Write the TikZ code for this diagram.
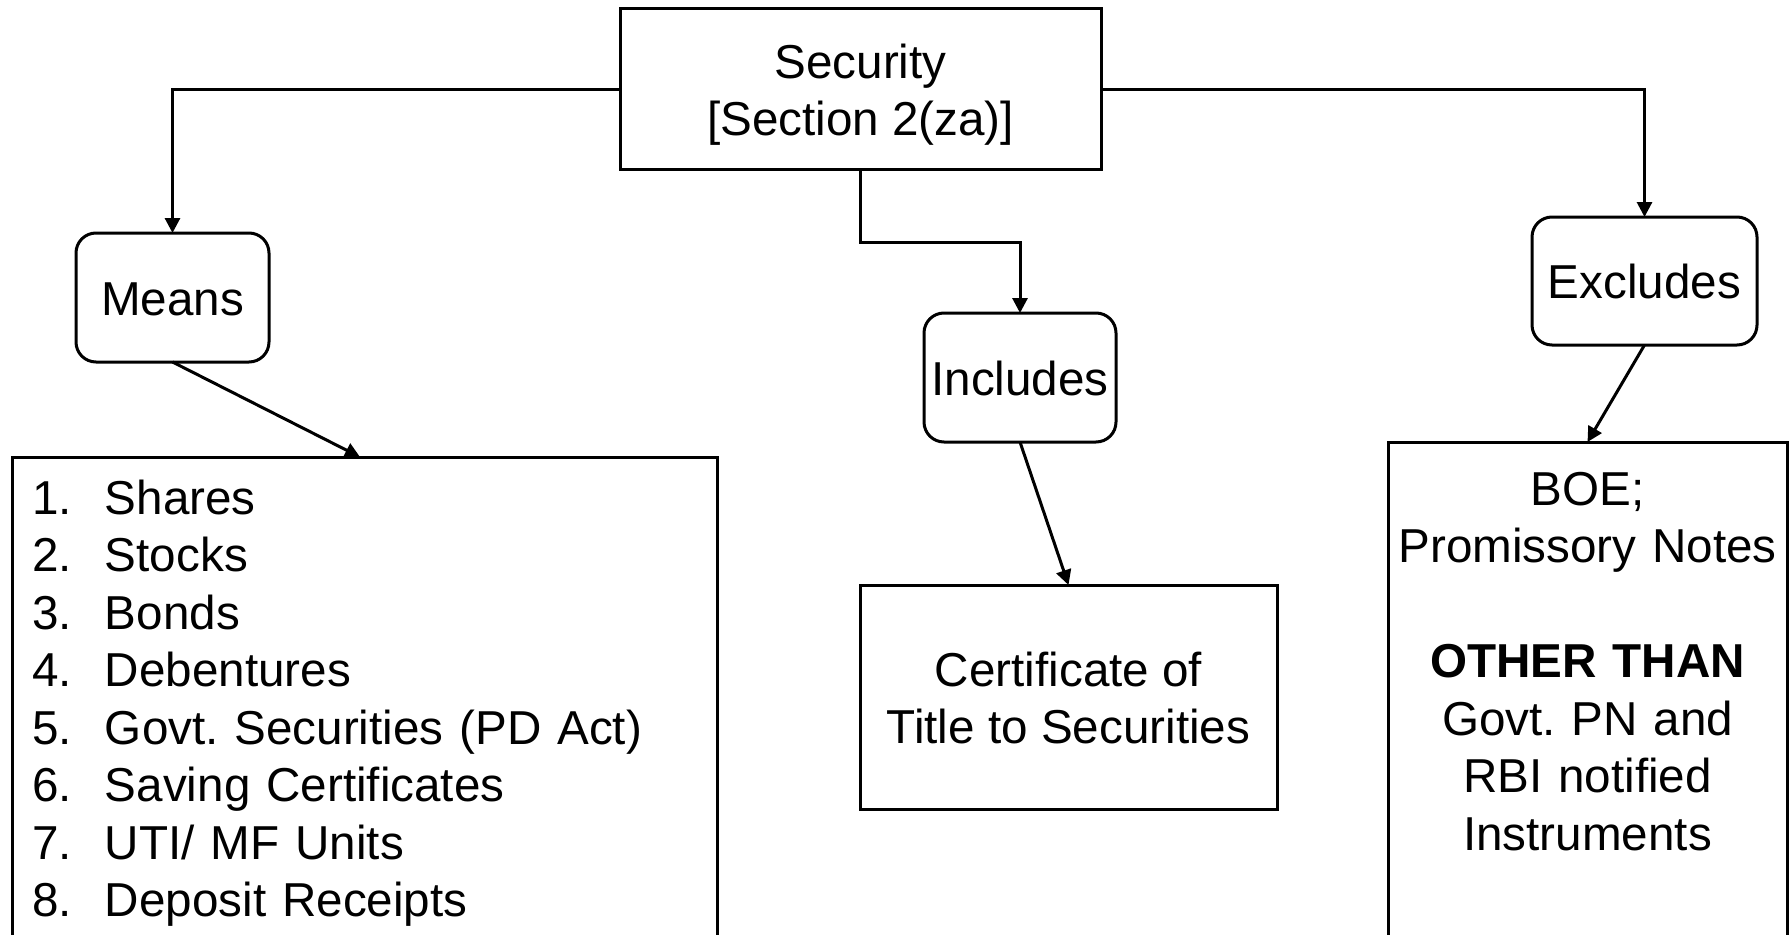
\documentclass[tikz,border=0pt]{standalone}
\usepackage{fontspec}
\setmainfont{Liberation Sans}
\usetikzlibrary{arrows.meta}
\newcommand\sst{\rule[-11pt]{0pt}{57.5pt}}
\frenchspacing
\begin{document}
\begin{tikzpicture}[x=1pt,y=-1pt,
  font=\fontsize{47.6pt}{57.5pt}\selectfont\frenchspacing,
  box/.style={draw=black, line width=3pt, inner sep=2pt, outer sep=0pt, align=center},
  roundbox/.style={box, rounded corners=20pt},
  arr/.style={draw=black, line width=3pt, -{Triangle[length=15pt,width=15pt]}}]
\useasboundingbox (0,0) rectangle (1790,934);

\node[box, minimum width=481pt, minimum height=160pt] (sec) at (860.5,89)
  {Security\sst\\ {[}Section 2(za)]\sst};
\node[roundbox, minimum width=193pt, minimum height=129pt] (means) at (172.5,297.5)
  {Means\sst};
\node[roundbox, minimum width=192pt, minimum height=129pt] (incl) at (1020,377.5)
  {Includes\sst};
\node[roundbox, minimum width=225pt, minimum height=128pt] (excl) at (1644.5,281)
  {Excludes\sst};
\node[box, minimum width=417pt, minimum height=224pt] (cert) at (1068.5,697)
  {Certificate of\sst\\ Title to Securities\sst};

\node[box, anchor=north west, align=left, text width=665pt, inner xsep=20pt, inner ysep=10.5pt] (list) at (12,457)
  {\makebox[73pt][l]{1.}Shares\sst\\
   \makebox[73pt][l]{2.}Stocks\sst\\
   \makebox[73pt][l]{3.}Bonds\sst\\
   \makebox[73pt][l]{4.}Debentures\sst\\
   \makebox[73pt][l]{5.}Govt. Securities (PD Act)\sst\\
   \makebox[73pt][l]{6.}Saving Certificates\sst\\
   \makebox[73pt][l]{7.}UTI/ MF Units\sst\\
   \makebox[73pt][l]{8.}Deposit Receipts\sst\\
   \mbox{}};

\node[box, anchor=north, text width=389pt, inner xsep=5pt, inner ysep=16.5pt] (excbox) at (1587.5,442)
  {BOE;\sst\\
   Promissory Notes\sst\\
   \sst\\
   \textbf{OTHER THAN}\sst\\
   Govt. PN and\sst\\
   RBI notified\sst\\
   Instruments\sst\\
   \mbox{}\\
   \mbox{}};

\draw[arr] (sec.west) -| (means.north);
\draw[arr] (sec.east) -| (excl.north);
\draw[arr] (sec.south) -- ++(0,73) -| (incl.north);
\draw[arr] (means.south) -- ([xshift=348pt]list.north west);
\draw[arr] (incl.south) -- (cert.north);
\draw[arr] (excl.south) -- (excbox.north);
\end{tikzpicture}
\end{document}
